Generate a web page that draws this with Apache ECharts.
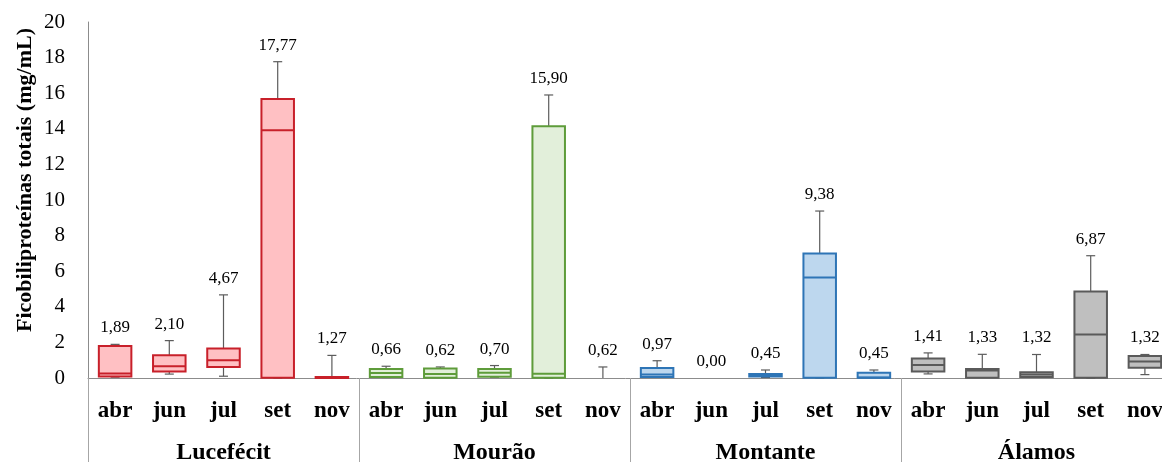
<!DOCTYPE html>
<html>
<head>
<meta charset="utf-8">
<script src="https://cdn.jsdelivr.net/npm/echarts@6/dist/echarts.min.js"></script>
<style>
  html, body { margin: 0; padding: 0; background: #fff; overflow: hidden; }
  #chart { width: 1162px; height: 462px; }
</style>
</head>
<body>
<div id="chart"></div>
<script>
// Sampling months and sites
const months = ['abr', 'jun', 'jul', 'set', 'nov'];
const sites = ['Lucefécit', 'Mourão', 'Montante', 'Álamos'];

// Box statistics per month: [min, q1, median, q3, max] (mg/mL)
const lucefecit = [
  [0.05, 0.08, 0.25, 1.80, 1.89],
  [0.22, 0.36, 0.66, 1.28, 2.10],
  [0.10, 0.62, 1.00, 1.66, 4.67],
  [0.00, 0.02, 13.92, 15.67, 17.77],
  [0.00, 0.00, 0.02, 0.05, 1.27]
];
const mourao = [
  [0.03, 0.06, 0.28, 0.51, 0.66],
  [0.02, 0.02, 0.23, 0.54, 0.62],
  [0.05, 0.07, 0.30, 0.51, 0.70],
  [0.00, 0.02, 0.24, 14.14, 15.90],
  [0.00, 0.00, 0.00, 0.00, 0.62]
];
const montante = [
  [0.04, 0.06, 0.19, 0.56, 0.97],
  [0.00, 0.00, 0.00, 0.00, 0.00],
  [0.03, 0.09, 0.15, 0.23, 0.45],
  [0.00, 0.02, 5.65, 7.00, 9.38],
  [0.02, 0.02, 0.03, 0.30, 0.45]
];
const alamos = [
  [0.23, 0.36, 0.73, 1.09, 1.41],
  [0.02, 0.02, 0.42, 0.51, 1.33],
  [0.04, 0.06, 0.20, 0.32, 1.32],
  [0.00, 0.02, 2.45, 4.86, 6.87],
  [0.19, 0.58, 0.92, 1.24, 1.32]
];

const siteData = [lucefecit, mourao, montante, alamos];
const fills = ['#FFC0C3', '#E2EFDA', '#BDD7EE', '#BFBFBF'];
const strokes = ['#C8202A', '#5E9C3A', '#2E75B6', '#5A5A5A'];
const whiskerColor = '#5C5C5C';
const serif = '"Liberation Serif", "Times New Roman", serif';

// One category per site/month pair
const categories = [];
sites.forEach(s => months.forEach(m => categories.push(s + '|' + m)));

function fmt(v) { return v.toFixed(2).replace('.', ','); }

function renderItem(params, api) {
  const si = params.seriesIndex;
  const x = api.value(0);
  const mn = api.value(1), q1 = api.value(2), md = api.value(3), q3 = api.value(4), mx = api.value(5);
  const w = api.size([1, 0])[0] * 0.6;
  const pMin = api.coord([x, mn]);
  const pQ1 = api.coord([x, q1]);
  const pMd = api.coord([x, md]);
  const pQ3 = api.coord([x, q3]);
  const pMax = api.coord([x, mx]);
  const cx = pMax[0];
  const cap = 4.5;
  const children = [];
  const wStyle = { stroke: whiskerColor, lineWidth: 1.2 };
  if (mx > q3) {
    children.push({ type: 'line', shape: { x1: cx, y1: pMax[1], x2: cx, y2: pQ3[1] }, style: wStyle });
    children.push({ type: 'line', shape: { x1: cx - cap, y1: pMax[1], x2: cx + cap, y2: pMax[1] }, style: wStyle });
  }
  if (mn < q1) {
    children.push({ type: 'line', shape: { x1: cx, y1: pQ1[1], x2: cx, y2: pMin[1] }, style: wStyle });
    children.push({ type: 'line', shape: { x1: cx - cap, y1: pMin[1], x2: cx + cap, y2: pMin[1] }, style: wStyle });
  }
  if (q3 > q1) {
    children.push({
      type: 'rect',
      shape: { x: cx - w / 2, y: pQ3[1], width: w, height: pQ1[1] - pQ3[1] },
      style: { fill: fills[si], stroke: strokes[si], lineWidth: 2 }
    });
    children.push({
      type: 'line',
      shape: { x1: cx - w / 2, y1: pMd[1], x2: cx + w / 2, y2: pMd[1] },
      style: { stroke: strokes[si], lineWidth: 2 }
    });
  }
  children.push({
    type: 'text',
    x: cx, y: pMax[1] - 8,
    style: {
      text: fmt(mx), fill: '#000', font: '17px ' + serif,
      align: 'center', verticalAlign: 'bottom'
    }
  });
  return { type: 'group', children: children };
}

const series = siteData.map((rows, si) => ({
  type: 'custom',
  xAxisIndex: 0,
  yAxisIndex: 0,
  renderItem: renderItem,
  clip: false,
  encode: { x: 0, y: [1, 2, 3, 4, 5] },
  data: rows.map((r, mi) => [si * months.length + mi].concat(r))
}));

const chart = echarts.init(document.getElementById('chart'), null, { renderer: 'canvas' });
chart.setOption({
  animation: false,
  backgroundColor: '#fff',
  // the plot runs slightly past the right edge of the canvas
  grid: { left: 88, width: 1084, top: 22, bottom: 84, containLabel: false, outerBoundsMode: 'none' },
  xAxis: [
    {
      type: 'category',
      data: categories,
      position: 'bottom',
      axisLine: { show: true, lineStyle: { color: '#8C8C8C', width: 1 } },
      axisTick: { show: false },
      axisLabel: {
        interval: 0,
        margin: 22,
        fontFamily: serif,
        fontWeight: 'bold',
        fontSize: 23,
        color: '#000',
        formatter: v => v.split('|')[1]
      },
      splitLine: { show: false }
    },
    {
      type: 'category',
      data: sites,
      position: 'bottom',
      axisLine: { show: false },
      axisTick: { show: true, length: 84, lineStyle: { color: '#A6A6A6', width: 1 } },
      axisLabel: {
        interval: 0,
        margin: 63,
        fontFamily: serif,
        fontWeight: 'bold',
        fontSize: 24,
        color: '#000'
      },
      splitLine: { show: false }
    }
  ],
  yAxis: {
    type: 'value',
    min: 0,
    max: 20,
    interval: 2,
    axisLine: { show: true, lineStyle: { color: '#8C8C8C', width: 1 } },
    axisTick: { show: false },
    splitLine: { show: false },
    axisLabel: { fontFamily: serif, fontSize: 21, color: '#000', margin: 23 }
  },
  graphic: [{
    type: 'text',
    x: 25, y: 180,
    rotation: Math.PI / 2,
    style: {
      text: 'Ficobiliproteínas totais (mg/mL)',
      font: 'bold 22px ' + serif,
      fill: '#000',
      align: 'center',
      verticalAlign: 'middle'
    }
  }],
  series: series
});
</script>
</body>
</html>
